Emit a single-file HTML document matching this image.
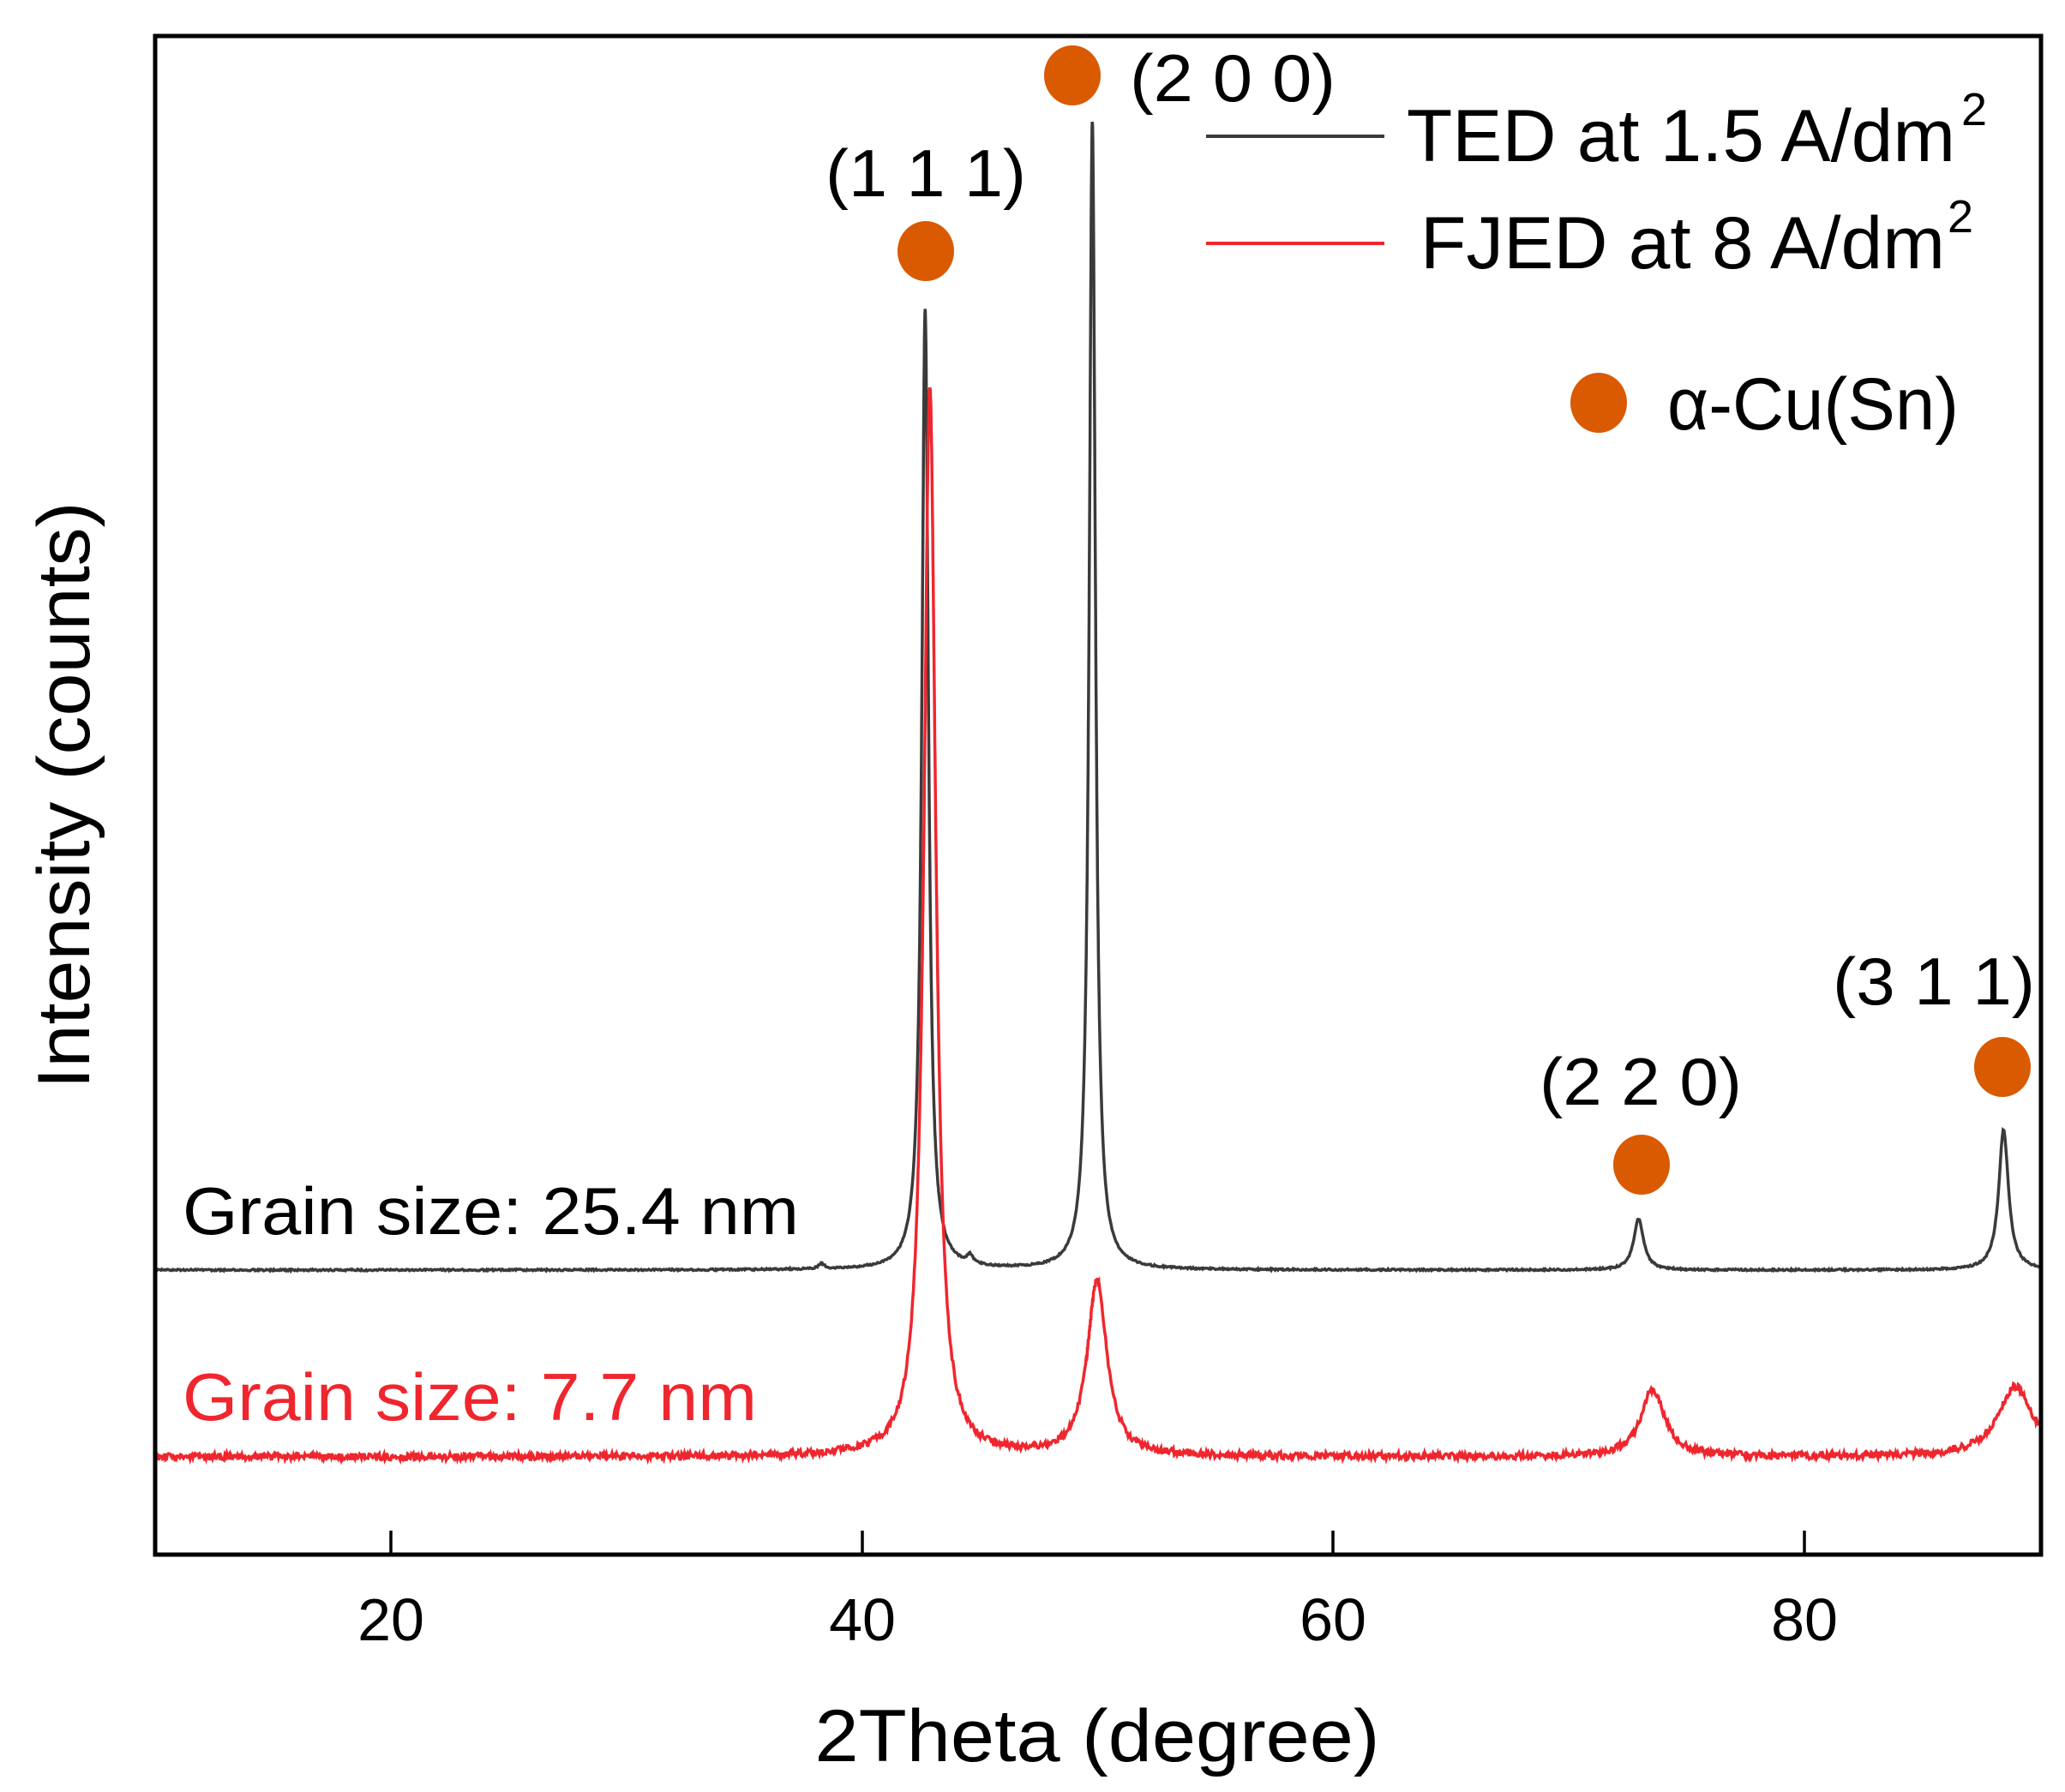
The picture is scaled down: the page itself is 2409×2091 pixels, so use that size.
<!DOCTYPE html>
<html><head><meta charset="utf-8"><style>
html,body{margin:0;padding:0;background:#fff}
svg{display:block}
text{font-family:"Liberation Sans",Arial,sans-serif}
</style></head><body>
<svg id="s" width="2409" height="2091" viewBox="0 0 2409 2091" xmlns="http://www.w3.org/2000/svg">
<rect x="0" y="0" width="2409" height="2091" fill="#fff"/>
<path id="blk" fill="none" stroke="#3a3a3a" stroke-width="3.5" d=""/>
<path id="red" fill="none" stroke="#f0262e" stroke-width="3.5" d=""/>
<rect x="181" y="42" width="2200" height="1772" fill="none" stroke="#000" stroke-width="5"/>
<g stroke="#000" stroke-width="3.5">
<line x1="456" y1="1814" x2="456" y2="1786"/>
<line x1="1006" y1="1814" x2="1006" y2="1786"/>
<line x1="1555" y1="1814" x2="1555" y2="1786"/>
<line x1="2105" y1="1814" x2="2105" y2="1786"/>
</g>
<g font-size="70" text-anchor="middle" fill="#000">
<text x="456" y="1914">20</text>
<text x="1006" y="1914">40</text>
<text x="1555" y="1914">60</text>
<text x="2105" y="1914">80</text>
</g>
<text x="1280" y="2055" font-size="86" text-anchor="middle" textLength="659" lengthAdjust="spacingAndGlyphs">2Theta (degree)</text>
<text transform="translate(104,928) rotate(-90)" font-size="86" text-anchor="middle" textLength="685" lengthAdjust="spacingAndGlyphs">Intensity (counts)</text>
<text x="213" y="1440" font-size="78" textLength="719" lengthAdjust="spacingAndGlyphs">Grain size: 25.4 nm</text>
<text x="213" y="1657" font-size="78" fill="#f0262e" textLength="670" lengthAdjust="spacingAndGlyphs">Grain size: 7.7 nm</text>
<g fill="#d95a00">
<ellipse cx="1080" cy="293" rx="33" ry="35"/>
<ellipse cx="1251" cy="88" rx="33" ry="35"/>
<ellipse cx="1915" cy="1359" rx="33" ry="35"/>
<ellipse cx="2336" cy="1245" rx="33" ry="35"/>
<ellipse cx="1865" cy="470" rx="33" ry="35"/>
</g>
<g font-size="78">
<text x="963" y="229" textLength="234" lengthAdjust="spacingAndGlyphs">(1 1 1)</text>
<text x="1318" y="118" textLength="240" lengthAdjust="spacingAndGlyphs">(2 0 0)</text>
<text x="1796" y="1289" textLength="236" lengthAdjust="spacingAndGlyphs">(2 2 0)</text>
<text x="2138" y="1172" textLength="236" lengthAdjust="spacingAndGlyphs">(3 1 1)</text>
</g>
<line x1="1407" y1="159" x2="1615" y2="159" stroke="#3a3a3a" stroke-width="4"/>
<line x1="1407" y1="284" x2="1615" y2="284" stroke="#f0262e" stroke-width="4"/>
<g font-size="86">
<text x="1641" y="188" textLength="640" lengthAdjust="spacingAndGlyphs">TED at 1.5 A/dm</text>
<text x="2288" y="146" font-size="54">2</text>
<text x="1657" y="313" textLength="612" lengthAdjust="spacingAndGlyphs">FJED at 8 A/dm</text>
<text x="2272" y="271" font-size="54">2</text>
<text x="1945" y="501" textLength="340" lengthAdjust="spacingAndGlyphs">α-Cu(Sn)</text>
</g>
<script>
(function(){
function X(t){return 181+(t-10)*27.47;}
var seed=7;function rnd(){seed=(seed*9301+49297)%233280;return seed/233280-0.5;}
function lor(t,c,h,w){var d=(t-c)/w;return h/(1+d*d);}
var b=[],r=[];
for(var t=10;t<=90.0001;t+=0.01){
 var yb=1482-lor(t,42.7,1120,0.17)-lor(t,49.8,1340,0.16)-lor(t,73.0,60,0.25)-lor(t,88.5,164,0.25)-lor(t,44.6,10,0.15)-lor(t,38.3,6,0.15)+rnd()*2;
 var yr=1700-lor(t,42.9,1248,0.3)-lor(t,50.0,205,0.5)-lor(t,73.6,79,0.6)-lor(t,89.0,82,0.9)+rnd()*8;
 if(Math.round(t*100)%4===0||Math.abs(t-42.7)<0.3||Math.abs(t-49.8)<0.3||Math.abs(t-42.9)<0.4){
 b.push(X(t).toFixed(1)+","+yb.toFixed(1));
 r.push(X(t).toFixed(1)+","+yr.toFixed(1));}
}
document.getElementById('blk').setAttribute('d','M'+b.join('L'));
document.getElementById('red').setAttribute('d','M'+r.join('L'));
})();
</script>
</svg>
</body></html>
